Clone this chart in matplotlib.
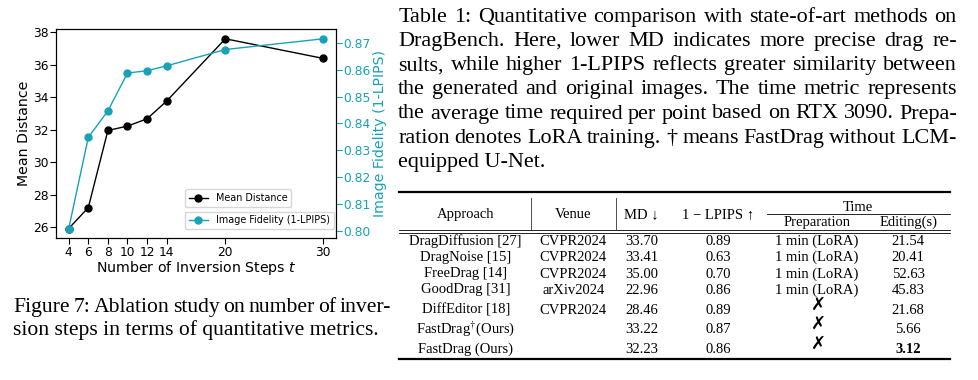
import matplotlib
matplotlib.use("Agg")
import matplotlib.pyplot as plt

W, H = 979, 380
TEAL = "#17a2b8"
SERIF = ["Liberation Serif", "DejaVu Serif"]

# ---------------- chart data ----------------
steps = [4, 6, 8, 10, 12, 14, 20, 30]
mean_distance = [25.92, 27.21, 31.96, 32.23, 32.68, 33.77, 37.61, 36.40]
image_fidelity = [0.8008, 0.8348, 0.8447, 0.8588, 0.8597, 0.8615, 0.8676, 0.8716]
left_ticks = [26, 28, 30, 32, 34, 36, 38]
right_ticks = [0.80, 0.81, 0.82, 0.83, 0.84, 0.85, 0.86, 0.87]

# ---------------- captions ----------------
fig_caption = ["Figure 7: Ablation study on number of inver-",
               "sion steps in terms of quantitative metrics."]
table_caption = ["Table 1: Quantitative comparison with state-of-art methods on",
                 "DragBench. Here, lower MD indicates more precise drag re-",
                 "sults, while higher 1-LPIPS reflects greater similarity between",
                 "the generated and original images. The time metric represents",
                 "the average time required per point based on RTX 3090. Prepa-",
                 "ration denotes LoRA training. \u2020 means FastDrag without LCM-",
                 "equipped U-Net."]

# ---------------- table data ----------------
approaches = ["DragDiffusion [27]", "DragNoise [15]", "FreeDrag [14]", "GoodDrag [31]",
              "DiffEditor [18]", "FastDrag$^{\\dagger}$(Ours)", "FastDrag (Ours)"]
venues = ["CVPR2024", "CVPR2024", "CVPR2024", "arXiv2024", "CVPR2024", "", ""]
md_vals = ["33.70", "33.41", "35.00", "22.96", "28.46", "33.22", "32.23"]
lpips_vals = ["0.89", "0.63", "0.70", "0.86", "0.89", "0.87", "0.86"]
prep_vals = ["1 min (LoRA)", "1 min (LoRA)", "1 min (LoRA)", "1 min (LoRA)",
             "\u2717", "\u2717", "\u2717"]
edit_vals = ["21.54", "20.41", "52.63", "45.83", "21.68", "5.66", "3.12"]

fig = plt.figure(figsize=(W / 100, H / 100), dpi=100)
page = fig.add_axes([0, 0, 1, 1])
page.set_xlim(0, W)
page.set_ylim(H, 0)
page.axis("off")
renderer = fig.canvas.get_renderer()


def text_width(s, **kw):
    t = page.text(0, 0, s, **kw)
    w = t.get_window_extent(renderer).width
    t.remove()
    return w


def put_line(line, x0, x1, y, justify, **kw):
    if not justify:
        page.text(x0, y, line, ha="left", va="baseline", **kw)
        return
    words = line.split()
    widths = [text_width(w, **kw) for w in words]
    gap = (x1 - x0 - sum(widths)) / (len(words) - 1)
    x = x0
    for w, wd in zip(words, widths):
        page.text(x, y, w, ha="left", va="baseline", **kw)
        x += wd + gap


# ---------------- chart ----------------
ax1 = fig.add_axes([56 / W, 1 - 238 / H, 280 / W, (238 - 29.3) / H])
l1, = ax1.plot(steps, mean_distance, color="black", marker="o", ms=5.0, lw=1.0,
               label="Mean Distance")
ax1.set_xticks(steps)
ax1.set_yticks(left_ticks)
ax1.tick_params(labelsize=8.8, pad=1.5, length=4.0)
ax1.set_xlabel("Number of Inversion Steps $t$", fontsize=10.2, labelpad=0)
ax1.set_ylabel("Mean Distance", fontsize=10.2, labelpad=1.5)

ax2 = ax1.twinx()
l2, = ax2.plot(steps, image_fidelity, color=TEAL, marker="o", ms=5.0, lw=1.0,
               label="Image Fidelity (1-LPIPS)")
ax2.set_yticks(right_ticks)
ax2.tick_params(axis="y", colors=TEAL, labelsize=8.8, pad=1.5, length=4.0)
ax2.set_ylabel("Image Fidelity (1-LPIPS)", color=TEAL, fontsize=10.2, labelpad=1.5)

leg1 = ax2.legend(handles=[l1], loc="lower left", bbox_to_anchor=(0.461, 0.150),
                  borderaxespad=0, fontsize=6.9)
ax2.add_artist(leg1)
ax2.legend(handles=[l2], loc="lower left", bbox_to_anchor=(0.461, 0.042),
           borderaxespad=0, fontsize=6.9)

# ---------------- figure caption ----------------
fig_base = [311.7, 335.0]
for i, line in enumerate(fig_caption):
    put_line(line, 13.3, 390.7, fig_base[i], i < len(fig_caption) - 1,
             family=SERIF, fontsize=15.6)

# ---------------- table caption ----------------
tc_base = [21.7 + 24.2 * i for i in range(len(table_caption))]
for i, line in enumerate(table_caption):
    put_line(line, 398.3, 956.7, tc_base[i], i < len(table_caption) - 1,
             family=SERIF, fontsize=15.9)

# ---------------- table ----------------
TL, TR = 399, 950
fs = 10.5
col_x = [465.7, 573.3, 641.7, 718.3, 816.7, 908.3]
page.plot([TL, TR], [192.3, 192.3], color="black", lw=1.6)
page.plot([TL, TR], [230.0, 230.0], color="black", lw=0.6)
page.plot([TL, TR], [233.3, 233.3], color="black", lw=0.6)
page.plot([TL, TR], [359.0, 359.0], color="black", lw=1.6)
page.plot([766.7, TR], [214.3, 214.3], color="black", lw=0.6)
for vx in (531, 616):
    page.plot([vx, vx], [198.3, 230.0], color="#333333", lw=0.6)

hdr_kw = dict(family=SERIF, fontsize=fs, ha="center", va="baseline")
page.text(col_x[0], 218.3, "Approach", **hdr_kw)
page.text(col_x[1], 218.3, "Venue", **hdr_kw)
page.text(col_x[2], 218.3, "MD \u2193", **hdr_kw)
page.text(col_x[3], 218.3, "1 \u2212 LPIPS \u2191", **hdr_kw)
page.text(858.3, 210.7, "Time", **hdr_kw)
page.text(col_x[4], 225.7, "Preparation", **hdr_kw)
page.text(col_x[5], 225.7, "Editing(s)", **hdr_kw)

row_base = [245.3, 261.3, 277.5, 293.5, 314.0, 333.3, 352.7]
for r in range(len(approaches)):
    y = row_base[r]
    page.text(col_x[0], y, approaches[r], math_fontfamily="stix", **hdr_kw)
    page.text(col_x[1], y, venues[r], **hdr_kw)
    page.text(col_x[2], y, md_vals[r], **hdr_kw)
    page.text(col_x[3], y, lpips_vals[r], **hdr_kw)
    if prep_vals[r] == "\u2717":
        page.text(818.3, y - 9.0, prep_vals[r], family="DejaVu Sans", fontsize=13,
                  ha="center", va="center")
    else:
        page.text(col_x[4], y, prep_vals[r], **hdr_kw)
    bold = "bold" if r == len(approaches) - 1 else "normal"
    page.text(col_x[5], y, edit_vals[r], fontweight=bold, **hdr_kw)

fig.savefig("out.png", dpi=100)
